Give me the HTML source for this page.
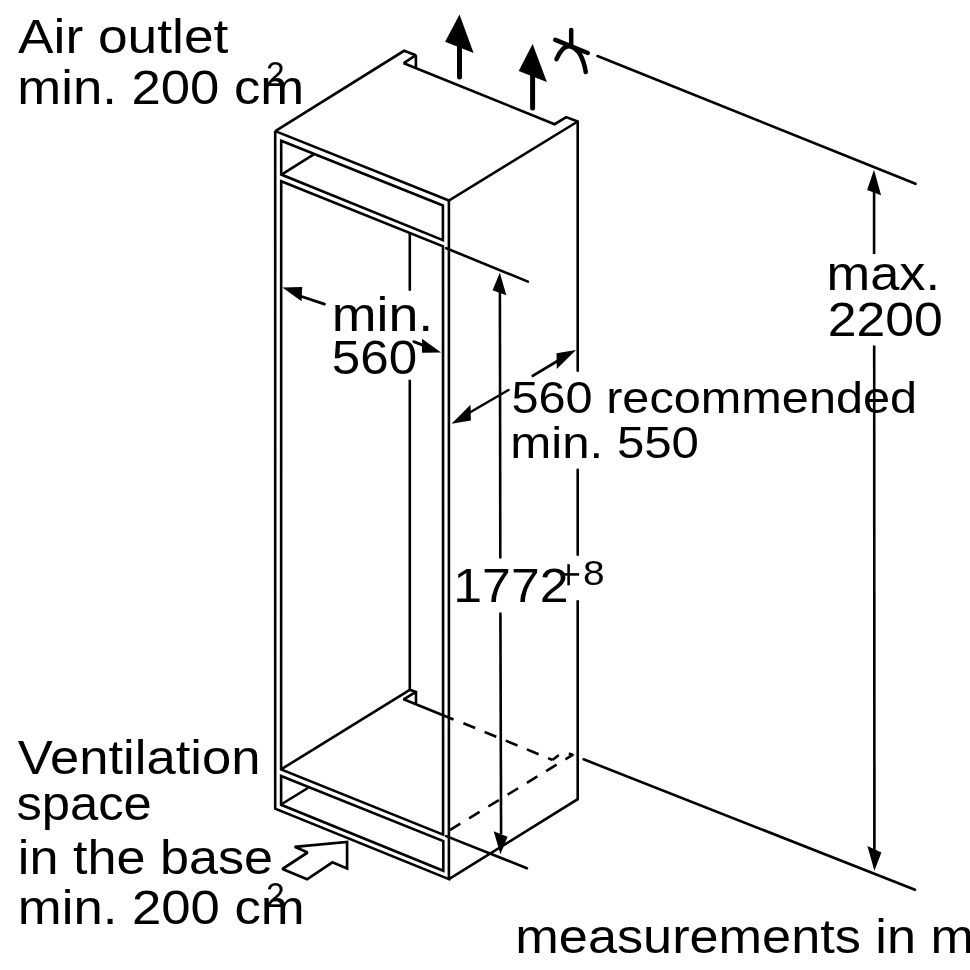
<!DOCTYPE html>
<html><head><meta charset="utf-8"><style>
html,body{margin:0;padding:0;background:#fff;}
svg{display:block;}
</style></head><body>
<svg width="970" height="970" viewBox="0 0 970 970">
<rect width="970" height="970" fill="#fff"/>
<g fill="none" stroke="#000" stroke-linejoin="miter" stroke-miterlimit="2">
<path d="M275.3,131.1 L404.1,50.8 L415.9,55.2 L403.8,63.2 L554.6,124.2 L566.2,117.1 L577.7,121.5 L448.9,200.5Z" stroke-width="2.6" fill="none"/>
<path d="M415.9,55.2 L415.9,68.2" stroke-width="2.6" stroke-linecap="butt"/>
<path d="M275.2,131.1 L275.2,808.6 L448.9,879.1 L448.9,200.5" stroke-width="2.6" stroke-linecap="butt"/>
<path d="M577.7,121.5 L577.7,370.7" stroke-width="2.6" stroke-linecap="round"/>
<path d="M577.7,469.7 L577.7,554.8" stroke-width="2.6" stroke-linecap="round"/>
<path d="M577.7,600.3 L577.7,799.2 L448.9,879.1" stroke-width="2.6" stroke-linecap="butt"/>
<path d="M281.2,140.8 L442.9,205.5 L442.9,240.1 L281.2,174.5Z" stroke-width="2.6" fill="none"/>
<path d="M281.9,174.3 L313.8,154.3" stroke-width="2.6" stroke-linecap="butt"/>
<path d="M281.2,181.3 L443,246.3 L443.1,834.6 L281.1,769.4Z" stroke-width="2.6" fill="none"/>
<path d="M281.4,769.2 L409.8,689.8" stroke-width="2.6" stroke-linecap="butt"/>
<path d="M409.8,233.5 L409.8,289.7" stroke-width="2.6" stroke-linecap="round"/>
<path d="M409.8,379.7 L409.8,689.8 L416,691.9 L416,703.4" stroke-width="2.6" stroke-linecap="butt"/>
<path d="M416,691.9 L403.6,699.3 L453.5,719.5" stroke-width="2.6" stroke-linecap="butt"/>
<path d="M463.4,723.2 L552.6,760" stroke-width="2.6" stroke-dasharray="12.7 10.2"/>
<path d="M552.6,760 L558.8,755" stroke-width="2.6" stroke-linecap="butt"/>
<path d="M281.1,776 L443.3,841.1 L443.3,870.7 L281.1,804.8Z" stroke-width="2.6" fill="none"/>
<path d="M281.9,804 L307.9,788" stroke-width="2.6" stroke-linecap="butt"/>
<path d="M449.8,830.1 L572.9,754.7" stroke-width="2.6" stroke-dasharray="12.3 10.3"/>
<path d="M568.8,753.5 L573.5,755.2" stroke-width="2.6" stroke-linecap="butt"/>
<path d="M499.9,290 L500.3,558.6" stroke-width="2.6" stroke-linecap="butt"/>
<path d="M500.4,612.4 L501.1,834" stroke-width="2.6" stroke-linecap="butt"/>
<path d="M499.8,272.4 L492.6,290.2 L506.3,295.3Z" fill="#000" stroke="none"/>
<path d="M500.4,854.3 L493.7,831.3 L507.6,836.8Z" fill="#000" stroke="none"/>
<path d="M446.2,248.2 L527.9,281.6" stroke-width="2.6" stroke-linecap="round"/>
<path d="M446.2,836.1 L526.9,868.2" stroke-width="2.6" stroke-linecap="round"/>
<path d="M874.1,190 L874.1,254" stroke-width="2.6" stroke-linecap="butt"/>
<path d="M874.2,345.6 L874.4,850" stroke-width="2.6" stroke-linecap="butt"/>
<path d="M874.0,169.8 L867.1,190 L881.1,195.3Z" fill="#000" stroke="none"/>
<path d="M874.4,870.7 L867.4,846 L881.4,852.6Z" fill="#000" stroke="none"/>
<path d="M597.5,56 L915.5,183.8" stroke-width="2.6" stroke-linecap="round"/>
<path d="M583.6,759.3 L915,889.7" stroke-width="2.6" stroke-linecap="round"/>
<path d="M282.4,287.4 L302.2,287.1 L301.6,301.3Z" fill="#000" stroke="none"/>
<path d="M300,296 L324.5,304.1" stroke-width="2.8" stroke-linecap="round"/>
<path d="M441.1,352.4 L422,338.8 L422,352.7Z" fill="#000" stroke="none"/>
<path d="M413.8,341.6 L424,345.6" stroke-width="2.8" stroke-linecap="round"/>
<path d="M576,349.9 L556.5,353.3 L556.8,369.1Z" fill="#000" stroke="none"/>
<path d="M532.7,375.9 L560,359.5" stroke-width="2.8" stroke-linecap="round"/>
<path d="M451.5,423.8 L470.5,404.8 L470.9,420.5Z" fill="#000" stroke="none"/>
<path d="M508.5,390 L468,413.5" stroke-width="2.6" stroke-linecap="round"/>
<path d="M459.5,14.5 L445.1,41.7 L473.6,53Z" fill="#000" stroke="none"/>
<path d="M459.5,45 L459.5,77" stroke-width="5" stroke-linecap="round"/>
<path d="M532.6,43.9 L518.7,70.9 L546.9,82Z" fill="#000" stroke="none"/>
<path d="M532.6,75 L532.6,108" stroke-width="5" stroke-linecap="round"/>
<path d="M571.2,30 L571.2,44" stroke-width="4.5" stroke-linecap="round"/>
<path d="M555.3,39.8 L587.8,53" stroke-width="4.5" stroke-linecap="round"/>
<path d="M556.5,59.2 Q563,44 571,46.5 Q582,50 585.8,72" stroke-width="4.5" stroke-linecap="round"/>
<path d="M561.2,574.4 L579.1,574.4" stroke-width="2.6" stroke-linecap="butt"/>
<path d="M568.6,564.2 L568.6,585.3" stroke-width="2.6" stroke-linecap="butt"/>
<path d="M347.1,841.9 L347.1,868.5 L332.4,862.3 L307.1,879.3 L282.4,869 L307.6,852.5 L294.7,846.8Z" stroke-width="2.7" fill="none"/>
</g>
<g font-family="'Liberation Sans', sans-serif" fill="#000" stroke="none" opacity="0.999">
<text transform="translate(18.00,53) scale(1.1111,1)" font-size="48.0">Air outlet</text>
<text transform="translate(17.31,104.1) scale(1.0977,1)" font-size="48.0">min. 200 cm</text>
<text transform="translate(826.52,289.5) scale(1.0928,1)" font-size="48.0">max.</text>
<text transform="translate(827.64,335.7) scale(1.0777,1)" font-size="48.0">2200</text>
<text transform="translate(331.64,330.5) scale(1.1205,1)" font-size="48.0">min.</text>
<text transform="translate(331.87,374.1) scale(1.0658,1)" font-size="48.0">560</text>
<text transform="translate(511.43,412.8) scale(1.0840,1)" font-size="44.9">560 recommended</text>
<text transform="translate(510.31,458.2) scale(1.0958,1)" font-size="44.9">min. 550</text>
<text transform="translate(453.28,602.2) scale(1.0800,1)" font-size="48.0">1772</text>
<text transform="translate(583.10,585.4) scale(1.0800,1)" font-size="36">8</text>
<text transform="translate(265.90,86.4) scale(0.9600,1)" font-size="35">2</text>
<text transform="translate(17.80,774.2) scale(1.0959,1)" font-size="48.0">Ventilation</text>
<text transform="translate(16.49,819.7) scale(1.0565,1)" font-size="48.0">space</text>
<text transform="translate(17.84,873.6) scale(1.0870,1)" font-size="48.0">in the base</text>
<text transform="translate(17.81,924.1) scale(1.0977,1)" font-size="48.0">min. 200 cm</text>
<text transform="translate(265.90,906.5) scale(0.9600,1)" font-size="35">2</text>
<text transform="translate(515.33,953.2) scale(1.0889,1)" font-size="48.0">measurements in m</text>
</g>
</svg>
</body></html>
